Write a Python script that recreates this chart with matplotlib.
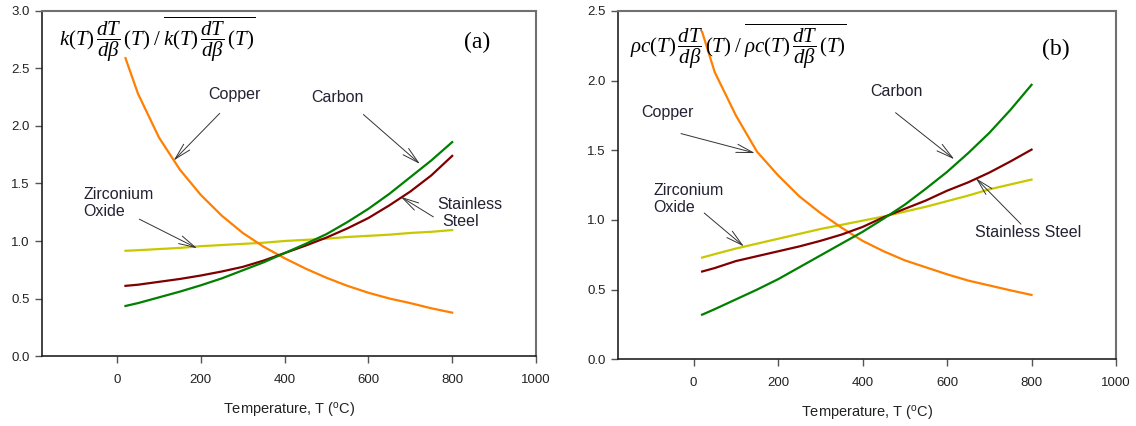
import numpy as np
import matplotlib
matplotlib.use('Agg')
import matplotlib.pyplot as plt

plt.rcParams['font.family'] = ['Liberation Sans', 'DejaVu Sans']
plt.rcParams['mathtext.fontset'] = 'custom'
plt.rcParams['mathtext.rm'] = 'Liberation Serif'
plt.rcParams['mathtext.it'] = 'Liberation Serif:italic'
plt.rcParams['mathtext.sf'] = 'Liberation Sans'

# Temperatures (deg C) where the curves were read
temps = [20, 50, 100, 150, 200, 250, 300, 350, 400, 450, 500, 550, 600, 650, 700, 750, 800]

# (a) k(T) dT/dbeta normalised
a_copper = [2.59, 2.28, 1.90, 1.62, 1.40, 1.22, 1.07, 0.95, 0.85, 0.76, 0.68, 0.61, 0.55, 0.50, 0.46, 0.415, 0.377]
a_zirconia = [0.915, 0.92, 0.93, 0.94, 0.955, 0.965, 0.975, 0.985, 1.0, 1.01, 1.02, 1.035, 1.045, 1.055, 1.07, 1.08, 1.095]
a_steel = [0.61, 0.62, 0.645, 0.67, 0.70, 0.735, 0.775, 0.83, 0.895, 0.96, 1.03, 1.11, 1.20, 1.31, 1.43, 1.57, 1.74]
a_carbon = [0.435, 0.46, 0.51, 0.56, 0.615, 0.675, 0.745, 0.815, 0.895, 0.975, 1.06, 1.165, 1.28, 1.41, 1.555, 1.70, 1.86]

# (b) rho c(T) dT/dbeta normalised
b_copper = [2.35, 2.06, 1.75, 1.49, 1.32, 1.17, 1.05, 0.945, 0.85, 0.775, 0.71, 0.66, 0.61, 0.565, 0.53, 0.495, 0.462]
b_zirconia = [0.73, 0.755, 0.795, 0.83, 0.865, 0.90, 0.935, 0.965, 0.995, 1.025, 1.06, 1.095, 1.135, 1.175, 1.22, 1.255, 1.29]
b_steel = [0.63, 0.655, 0.705, 0.74, 0.775, 0.81, 0.85, 0.895, 0.95, 1.02, 1.08, 1.14, 1.21, 1.27, 1.34, 1.42, 1.505]
b_carbon = [0.32, 0.36, 0.43, 0.50, 0.575, 0.66, 0.745, 0.83, 0.915, 1.01, 1.11, 1.225, 1.345, 1.48, 1.625, 1.79, 1.97]

c_copper = '#FF8000'
c_zirc = '#C8C800'
c_steel = '#800000'
c_carbon = '#008000'

fig = plt.figure(figsize=(11.36, 4.26), dpi=100)
ax1 = fig.add_axes([0.0367, 0.1643, 0.4351, 0.8099])
ax2 = fig.add_axes([0.5437, 0.1566, 0.4387, 0.8176])

arrow = dict(arrowstyle='->,head_length=1.2,head_width=0.3', color='#333333', lw=0.7,
             shrinkA=0, shrinkB=0)


def style(ax, ymax):
    ax.set_xlim(-180, 1000)
    ax.set_ylim(0, ymax)
    ax.set_xticks(range(0, 1001, 200))
    ax.set_yticks(np.arange(0, ymax + 0.01, 0.5))
    ax.yaxis.set_major_formatter(matplotlib.ticker.FormatStrFormatter('%.1f'))
    ax.tick_params(direction='out', length=5, width=1, color='#555555',
                   labelsize=9.5, labelcolor='#222222')
    ax.tick_params(axis='x', pad=8)
    for s in ['left', 'bottom']:
        ax.spines[s].set_color('#222222')
        ax.spines[s].set_linewidth(1.2)
    for s in ['top', 'right']:
        ax.spines[s].set_color('#707070')
        ax.spines[s].set_linewidth(1.5)
    ax.set_xlabel(r'Temperature, T ($^{\mathsf{o}}$C)', fontsize=10.5, color='#222222', labelpad=10)


for ax, cu, zr, st, cb in [(ax1, a_copper, a_zirconia, a_steel, a_carbon),
                           (ax2, b_copper, b_zirconia, b_steel, b_carbon)]:
    ax.plot(temps, zr, color=c_zirc, lw=1.6)
    ax.plot(temps, cu, color=c_copper, lw=1.6)
    ax.plot(temps, st, color=c_steel, lw=1.6)
    ax.plot(temps, cb, color=c_carbon, lw=1.6)

style(ax1, 3.0)
style(ax2, 2.5)

fs = 11.5
tc = '#222233'

# panel (a)
ax1.text(0.035, 0.99, r'$k(T)\,\dfrac{dT}{d\beta}\,(T)\;/\;\overline{k(T)\,\dfrac{dT}{d\beta}\,(T)}$',
         transform=ax1.transAxes, fontsize=15, va='top', ha='left')
ax1.text(0.88, 0.91, '(a)', transform=ax1.transAxes, fontsize=17, family='Liberation Serif',
         ha='center', va='center')
ax1.text(280, 2.27, 'Copper', fontsize=fs, color=tc, ha='center', va='center')
ax1.annotate('', xy=(135, 1.70), xytext=(245, 2.11), arrowprops=arrow)
ax1.text(525, 2.25, 'Carbon', fontsize=fs, color=tc, ha='center', va='center')
ax1.annotate('', xy=(723, 1.67), xytext=(588, 2.10), arrowprops=arrow)
ax1.text(765, 1.32, 'Stainless', fontsize=fs, color=tc, ha='left', va='center')
ax1.text(777, 1.17, 'Steel', fontsize=fs, color=tc, ha='left', va='center')
ax1.annotate('', xy=(677, 1.385), xytext=(755, 1.21), arrowprops=arrow)
ax1.text(-80, 1.33, 'Zirconium\nOxide', fontsize=fs, color=tc, ha='left', va='center',
         linespacing=1.1)
ax1.annotate('', xy=(191, 0.937), xytext=(53, 1.19), arrowprops=arrow)

# panel (b)
ax2.text(0.025, 0.97, r'$\rho c(T)\,\dfrac{dT}{d\beta}\,(T)\;/\;\overline{\rho c(T)\,\dfrac{dT}{d\beta}\,(T)}$',
         transform=ax2.transAxes, fontsize=15, va='top', ha='left')
ax2.text(0.88, 0.89, '(b)', transform=ax2.transAxes, fontsize=17, family='Liberation Serif',
         ha='center', va='center')
ax2.text(-125, 1.77, 'Copper', fontsize=fs, color=tc, ha='left', va='center')
ax2.annotate('', xy=(145, 1.48), xytext=(-30, 1.62), arrowprops=arrow)
ax2.text(480, 1.92, 'Carbon', fontsize=fs, color=tc, ha='center', va='center')
ax2.annotate('', xy=(617, 1.436), xytext=(478, 1.77), arrowprops=arrow)
ax2.text(665, 0.91, 'Stainless Steel', fontsize=fs, color=tc, ha='left', va='center')
ax2.annotate('', xy=(668, 1.30), xytext=(775, 0.97), arrowprops=arrow)
ax2.text(-95, 1.15, 'Zirconium\nOxide', fontsize=fs, color=tc, ha='left', va='center',
         linespacing=1.1)
ax2.annotate('', xy=(119, 0.81), xytext=(25, 1.05), arrowprops=arrow)

fig.savefig('out.png', dpi=100)
